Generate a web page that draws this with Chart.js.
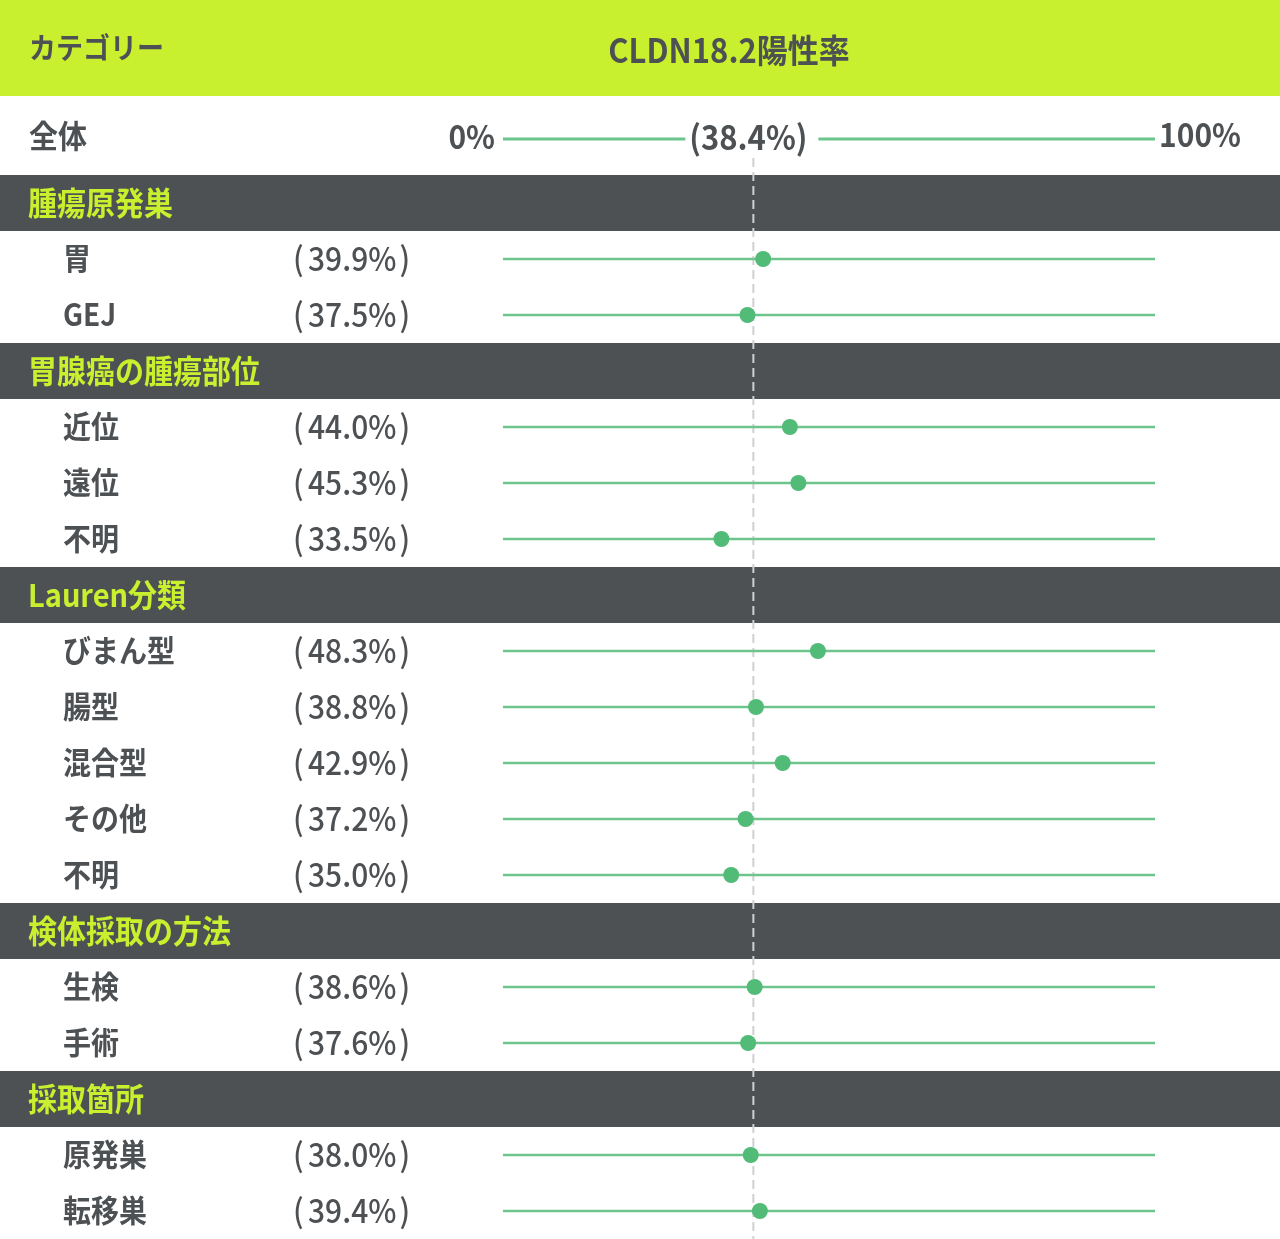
<!DOCTYPE html>
<html lang="ja">
<head>
<meta charset="utf-8">
<title>CLDN18.2陽性率</title>
<script src="https://cdn.jsdelivr.net/npm/chart.js@4.4.0/dist/chart.umd.min.js"></script>
<style>
    html, body { margin: 0; padding: 0; background: #ffffff; }
    #wrap { position: relative; width: 1280px; height: 1239px; }
</style>
</head>
<body>
<div id="wrap"><canvas id="rateChart"></canvas></div>
<script>
// ============================================
// DATA
// ============================================
const headerLeft = 'カテゴリー';
const headerTitle = 'CLDN18.2陽性率';
const overallLabel = '全体';
const overallRate = 38.4;
const axisTicks = ['0%', '100%'];
const axisRange = [0, 100];

// row labels (section headers included, in display order)
const rowLabels = [
    '腫瘍原発巣', '胃', 'GEJ',
    '胃腺癌の腫瘍部位', '近位', '遠位', '不明',
    'Lauren分類', 'びまん型', '腸型', '混合型', 'その他', '不明',
    '検体採取の方法', '生検', '手術',
    '採取箇所', '原発巣', '転移巣'
];
// true = section header row
const sectionRows = [
    true, false, false,
    true, false, false, false,
    true, false, false, false, false, false,
    true, false, false,
    true, false, false
];
// positive rate (%) per row, null for section header rows
const rateValues = [
    null, 39.9, 37.5,
    null, 44.0, 45.3, 33.5,
    null, 48.3, 38.8, 42.9, 37.2, 35.0,
    null, 38.6, 37.6,
    null, 38.0, 39.4
];

// ============================================
// STYLE
// ============================================
const LIME = '#c8f02e';
const DARK = '#4d5154';
const GREEN_DOT = '#52bb78';
const GREEN_LINE = '#6cc58b';
const FONT = '"Noto Sans CJK JP", "Noto Sans", sans-serif';
const STRETCH = 1.08; // glyphs in the source are slightly taller than wide

// draw text with a small vertical stretch, returns drawn width
function drawText(ctx, text, x, y, font, color, align) {
    ctx.save();
    ctx.font = font;
    ctx.fillStyle = color;
    ctx.textAlign = align || 'left';
    ctx.textBaseline = 'middle';
    ctx.translate(x, y);
    ctx.scale(1, STRETCH);
    ctx.fillText(text, 0, 0);
    const w = ctx.measureText(text).width;
    ctx.restore();
    return w;
}

const tableLayer = {
    id: 'tableLayer',
    beforeDatasetsDraw(chart) {
        const { ctx, scales: { x, y } } = chart;
        const W = chart.width;
        const rowH = y.getPixelForValue(1) - y.getPixelForValue(0);
        ctx.save();

        // header band
        ctx.fillStyle = LIME;
        ctx.fillRect(0, 0, W, 96);

        // section bands
        sectionRows.forEach((isSec, i) => {
            if (!isSec) return;
            const cy = y.getPixelForValue(i);
            ctx.fillStyle = DARK;
            ctx.fillRect(0, Math.round(cy - rowH / 2), W, Math.round(rowH));
        });

        // overall axis row
        const oy = 139;
        const xMin = x.getPixelForValue(axisRange[0]);
        const xMax = x.getPixelForValue(axisRange[1]);
        const xMid = x.getPixelForValue(overallRate);
        ctx.strokeStyle = GREEN_LINE;
        ctx.lineWidth = 3;
        ctx.beginPath();
        ctx.moveTo(xMin, oy);
        ctx.lineTo(xMid - 68, oy);
        ctx.moveTo(xMid + 65, oy);
        ctx.lineTo(xMax, oy);
        ctx.stroke();

        // reference dashed line at overall rate
        ctx.strokeStyle = '#d0d0d0';
        ctx.lineWidth = 2;
        ctx.setLineDash([9, 5]);
        ctx.beginPath();
        ctx.moveTo(xMid, 158);
        ctx.lineTo(xMid, chart.height);
        ctx.stroke();
        ctx.setLineDash([]);
        ctx.restore();

        // header texts
        drawText(ctx, headerLeft, 29, 48, 'bold 27px ' + FONT, DARK, 'left');
        drawText(ctx, headerTitle, 729, 50, 'bold 31px ' + FONT, DARK, 'center');

        // overall row texts
        drawText(ctx, overallLabel, 29, 136, 'bold 29px ' + FONT, DARK, 'left');
        drawText(ctx, axisTicks[0], xMin - 8, 137, 'bold 30px ' + FONT, DARK, 'right');
        drawText(ctx, axisTicks[1], xMax + 4, 135, 'bold 30px ' + FONT, DARK, 'left');
        drawText(ctx, '(' + overallRate.toFixed(1) + '%)', xMid - 5, 137, 'bold 31px ' + FONT, DARK, 'center');

        rowLabels.forEach((label, i) => {
            const cy = y.getPixelForValue(i);
            if (sectionRows[i]) {
                drawText(ctx, label, 28, cy, 'bold 29px ' + FONT, LIME, 'left');
            } else {
                drawText(ctx, label, 63, cy, 'bold 28px ' + FONT, DARK, 'left');
                const vf = '500 30px ' + FONT;
                drawText(ctx, '(', 293, cy, vf, DARK, 'left');
                const w = drawText(ctx, rateValues[i].toFixed(1) + '%', 308, cy, vf, DARK, 'left');
                drawText(ctx, ')', 308 + w + 3, cy, vf, DARK, 'left');
            }
        });
    }
};

new Chart(document.getElementById('rateChart'), {
    data: {
        labels: rowLabels,
        datasets: [
            {
                type: 'line',
                label: 'rate',
                data: rateValues,
                showLine: false,
                pointRadius: 8,
                pointHoverRadius: 8,
                pointBackgroundColor: GREEN_DOT,
                pointBorderWidth: 0,
                order: 0
            },
            {
                type: 'bar',
                label: 'track',
                data: rateValues.map(v => (v === null ? null : axisRange)),
                backgroundColor: GREEN_LINE,
                barThickness: 1.6,
                borderSkipped: false,
                order: 1
            }
        ]
    },
    options: {
        indexAxis: 'y',
        responsive: true,
        maintainAspectRatio: false,
        animation: false,
        events: [],
        layout: {
            autoPadding: false,
            padding: { left: 503, right: 125, top: 175, bottom: 0 }
        },
        plugins: {
            legend: { display: false },
            tooltip: { enabled: false }
        },
        scales: {
            x: {
                type: 'linear',
                min: axisRange[0],
                max: axisRange[1],
                display: false
            },
            y: {
                type: 'category',
                offset: true,
                display: false,
                grid: { display: false }
            }
        }
    },
    plugins: [tableLayer]
});
</script>
</body>
</html>
